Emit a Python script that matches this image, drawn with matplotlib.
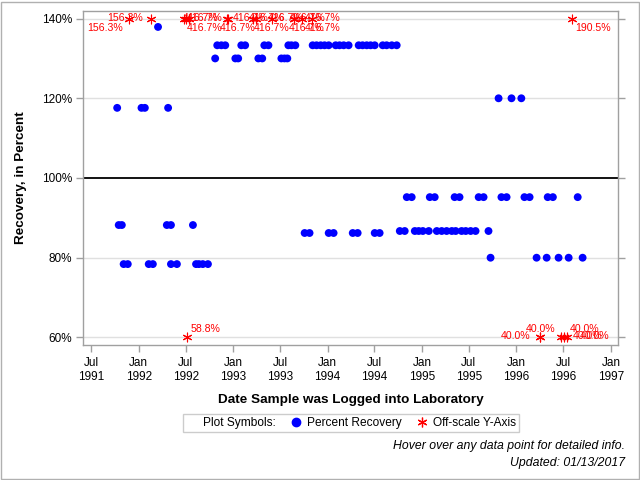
import matplotlib
matplotlib.use('Agg')
import matplotlib.pyplot as plt
import matplotlib.dates as mdates
from matplotlib.lines import Line2D
from matplotlib.patches import Rectangle
import pandas as pd

plt.rcParams['font.family'] = ['Liberation Sans', 'DejaVu Sans']

# ---------------- data ----------------
d_117_6 = ['1991-10-10', '1992-01-12', '1992-01-25', '1992-04-24']
d_137_9 = ['1992-03-16']
d_88_2 = ['1991-10-16', '1991-10-28', '1992-04-19', '1992-05-05', '1992-07-29']
d_78_4 = ['1991-11-04', '1991-11-20', '1992-02-09', '1992-02-25', '1992-05-05',
          '1992-05-28', '1992-08-10', '1992-08-21', '1992-09-05', '1992-09-25']
d_133_3 = ['1992-10-31', '1992-11-16', '1992-12-01', '1993-02-01', '1993-02-16',
           '1993-05-01', '1993-05-17', '1993-08-02', '1993-08-14', '1993-08-29',
           '1993-11-04', '1993-11-19', '1993-12-05', '1993-12-20', '1994-01-05',
           '1994-02-01', '1994-02-16', '1994-03-04', '1994-03-23',
           '1994-05-01', '1994-05-16', '1994-06-01', '1994-06-16', '1994-07-02',
           '1994-08-02', '1994-08-17', '1994-09-06', '1994-09-25']
d_130_0 = ['1992-10-23', '1993-01-09', '1993-01-20', '1993-04-08', '1993-04-23',
           '1993-07-06', '1993-07-18', '1993-07-29']
d_86_2 = ['1993-10-04', '1993-10-23', '1994-01-05', '1994-01-24', '1994-04-08',
          '1994-04-27', '1994-07-02', '1994-07-21']
d_86_7 = ['1994-10-07', '1994-10-26', '1994-12-04', '1994-12-19', '1995-01-04',
          '1995-01-27', '1995-02-27', '1995-03-18', '1995-04-06', '1995-04-26',
          '1995-05-11', '1995-06-03', '1995-06-19', '1995-07-08', '1995-07-27',
          '1995-09-15']
d_95_2 = ['1994-11-03', '1994-11-22', '1995-01-31', '1995-02-19', '1995-05-07',
          '1995-05-26', '1995-08-08', '1995-08-27', '1995-11-04', '1995-11-24',
          '1996-02-01', '1996-02-21', '1996-05-01', '1996-05-21', '1996-08-25']
d_80_0 = ['1995-09-23', '1996-03-19', '1996-04-27', '1996-06-12', '1996-07-21',
          '1996-09-13']
d_120_0 = ['1995-10-24', '1995-12-13', '1996-01-20']

recovery_groups = [
    (d_117_6, 117.6), (d_137_9, 137.9), (d_88_2, 88.2), (d_78_4, 78.4),
    (d_133_3, 133.3), (d_130_0, 130.0), (d_86_2, 86.2), (d_86_7, 86.7),
    (d_95_2, 95.2), (d_80_0, 80.0), (d_120_0, 120.0),
]

offscale_dates = ['1991-11-24', '1992-02-17', '1992-07-05',
                  '1992-06-26', '1992-07-12', '1992-07-04',
                  '1992-12-13', '1992-12-09',
                  '1993-03-19', '1993-03-31', '1993-06-01',
                  '1993-08-25', '1993-08-25', '1993-09-25', '1993-11-03',
                  '1996-03-31', '1996-03-31', '1996-06-20', '1996-07-02', '1996-07-14',
                  '1996-08-02']
offscale_values = [156.3, 156.3, 58.8,
                   416.7, 416.7, 416.7,
                   416.7, 416.7,
                   416.7, 416.7, 416.7,
                   416.7, 416.7, 416.7, 416.7,
                   40.0, 40.0, 40.0, 40.0, 40.0,
                   190.5]
# label offsets in pixels from the marker (style only, left-aligned text)
offscale_label_offsets = [(-42, -9), (-44, 1), (4, 8),
                          (-2, 1), (-2, 1), (0, -9),
                          (4, 1), (-8, -9),
                          (-4, 1), (-3, -9), (-5, 1),
                          (-5, 1), (-6, -9), (2, 1), (-8, -9),
                          (-39, 1), (-14, 8), (9, 8), (9, 1), (13, 1),
                          (3, -9)]

y_ticks = [60, 80, 100, 120, 140]
y_min, y_max = 60, 140

# ---------------- figure ----------------
fig = plt.figure(figsize=(6.4, 4.8), dpi=100)
ax = fig.add_axes([83.3 / 640, 1 - 345 / 480, (618.3 - 83.3) / 640, (345 - 11) / 480])

frame_col = '#A0A0A0'
grid_col = '#E0E0E0'

for t in y_ticks:
    if t == 100:
        ax.axhline(t, color='black', lw=1.3, zorder=1)
    else:
        ax.axhline(t, color=grid_col, lw=1.0, zorder=0)

for dates, val in recovery_groups:
    ax.scatter(pd.to_datetime(dates), [val] * len(dates), s=32, color='#0000FF',
               edgecolors='none', zorder=3)

off_x = pd.to_datetime(offscale_dates)
off_y = [min(max(v, y_min), y_max) for v in offscale_values]
ax.scatter(off_x, off_y, marker=(6, 2, 0), s=40, color='#FF0000', linewidths=0.8,
           zorder=4, clip_on=False)

for x, y, v, (dx, dy) in zip(off_x, off_y, offscale_values, offscale_label_offsets):
    ax.annotate(f'{v:.1f}%', (x, y), xytext=(dx, dy), textcoords='offset pixels',
                ha='left', va='center', color='#FF0000', fontsize=7.6, zorder=5,
                annotation_clip=False)

ax.set_xlim(pd.Timestamp('1991-06-01'), pd.Timestamp('1997-01-29'))
ax.set_ylim(58.1, 141.9)
ax.xaxis.set_major_locator(mdates.MonthLocator(bymonth=[1, 7]))
ax.xaxis.set_major_formatter(mdates.DateFormatter('%b\n%Y'))
ax.set_yticks(y_ticks)
ax.set_yticklabels([f'{t}%' for t in y_ticks])

for s in ax.spines.values():
    s.set_color(frame_col)
    s.set_linewidth(1.0)
ax.tick_params(axis='both', colors=frame_col, labelcolor='black', labelsize=8.5,
               length=5, width=1.0)
ax.tick_params(axis='y', right=True, pad=3)
ax.tick_params(axis='x', pad=4)

ax.set_xlabel('Date Sample was Logged into Laboratory', fontsize=9.7,
              fontweight='bold', labelpad=8)
ax.set_ylabel('Recovery, in Percent', fontsize=9.7, fontweight='bold', labelpad=11)

handles = [
    Line2D([], [], linestyle='none', marker=None),
    Line2D([], [], linestyle='none', marker='o', color='#0000FF', markersize=6),
    Line2D([], [], linestyle='none', marker=(6, 2, 0), color='#FF0000',
           markersize=7, markeredgewidth=0.9),
]
labels = ['Plot Symbols:', 'Percent Recovery', 'Off-scale Y-Axis']
leg = fig.legend(handles, labels, loc='center', bbox_to_anchor=(351 / 640, 1 - 423 / 480),
                 ncol=3, fontsize=8.6, frameon=True, fancybox=False,
                 handlelength=1.0, handletextpad=0.4, columnspacing=1.2,
                 borderpad=0.25)
leg.get_frame().set_edgecolor('#C0C0C0')
leg.get_frame().set_linewidth(1.0)

fig.text(625 / 640, 1 - 446 / 480, 'Hover over any data point for detailed info.',
         ha='right', va='center', fontsize=8.8, style='italic')
fig.text(625 / 640, 1 - 463 / 480, 'Updated: 01/13/2017',
         ha='right', va='center', fontsize=8.8, style='italic')

fig.patches.append(Rectangle((0.5 / 640, 1.5 / 480), 638 / 640, 477 / 480,
                             transform=fig.transFigure, fill=False,
                             edgecolor='#B0B0B0', lw=1.0))

fig.savefig('out.png', dpi=100)
